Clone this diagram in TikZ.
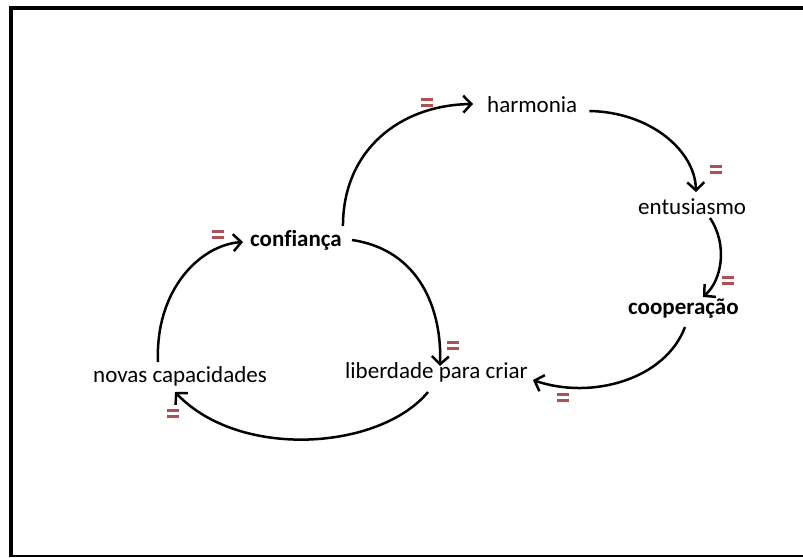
\documentclass[tikz,border=0pt]{standalone}
\usepackage{fontspec}
\setmainfont[Ligatures=NoCommon]{Carlito}
\usetikzlibrary{arrows.meta}
\definecolor{eqred}{RGB}{176,80,84}
\tikzset{
  lbl/.style={inner sep=0pt, anchor=base west, font=\fontsize{23}{26}\selectfont},
  lblb/.style={lbl, font=\fontsize{23}{26}\selectfont\bfseries},
  link/.style={line width=2.5pt, -{Straight Barb[length=8pt,width=17pt,line width=2.5pt]}},
  eq/.style={inner sep=0pt, minimum width=12pt, minimum height=9pt,
    path picture={
      \fill[eqred] (path picture bounding box.north west) rectangle ([yshift=-3pt]path picture bounding box.north east);
      \fill[eqred] ([yshift=3pt]path picture bounding box.south west) rectangle (path picture bounding box.south east);
    }}
}
\begin{document}
\begin{tikzpicture}[x=1pt,y=-1pt]
  \useasboundingbox (0,0) rectangle (803,557);
  % frame
  \fill[white] (0,0) rectangle (803,557);
  \draw[line width=4pt] (10.5,557) -- (10.5,8) -- (803,8);
  \draw[line width=2pt] (9,556) -- (803,556);

  % variables
  \node[lbl]  (harm) at (487,112) {harmonia};
  \node[lbl]  (ent)  at (638,214) {entusiasmo};
  \node[lblb] (coop) at (628,314) {cooperação};
  \node[lbl]  (lib)  at (345,378) {liberdade para criar};
  \node[lbl]  (nov)  at (93,382)  {novas capacidades};
  \node[lblb] (conf) at (250,246) {confiança};

  % causal links
  \draw[link] ([shift={(1,-20)}]conf.base east) .. controls +(0,-76) and +(-73,1) .. ([shift={(-14,-8)}]harm.base west);
  \draw[link] ([shift={(12,-1)}]harm.base east) .. controls +(60,1) and +(-1,-42) .. ([shift={(58,-22)}]ent.base west);
  \draw[link] ([shift={(72,4)}]ent.base west) .. controls +(18,27) and +(19,-17) .. ([shift={(75,-17)}]coop.base west);
  \draw[link] ([shift={(57,13)}]coop.base west) .. controls +(-20,53) and +(58,20) .. ([shift={(5,2)}]lib.base east);
  \draw[link] ([shift={(10,-6)}]conf.base east) .. controls +(68,10) and +(2,-56) .. ([shift={(95,-12)}]lib.base west);
  \draw[link] ([shift={(83,14)}]lib.base west) .. controls +(-48,58) and +(65,68) .. ([shift={(82,10)}]nov.base west);
  \draw[link] ([shift={(65,-20)}]nov.base west) .. controls +(-3,-72) and +(-43,3) .. ([shift={(-7,-4)}]conf.base west);

  % polarity marks
  \node[eq] (e1) at (427,102) {};
  \node[eq] (e2) at (716,169) {};
  \node[eq] (e3) at (728,280) {};
  \node[eq] (e4) at (453,345) {};
  \node[eq] (e5) at (563,397) {};
  \node[eq] (e6) at (173,413) {};
  \node[eq] (e7) at (218,234) {};
\end{tikzpicture}
\end{document}
